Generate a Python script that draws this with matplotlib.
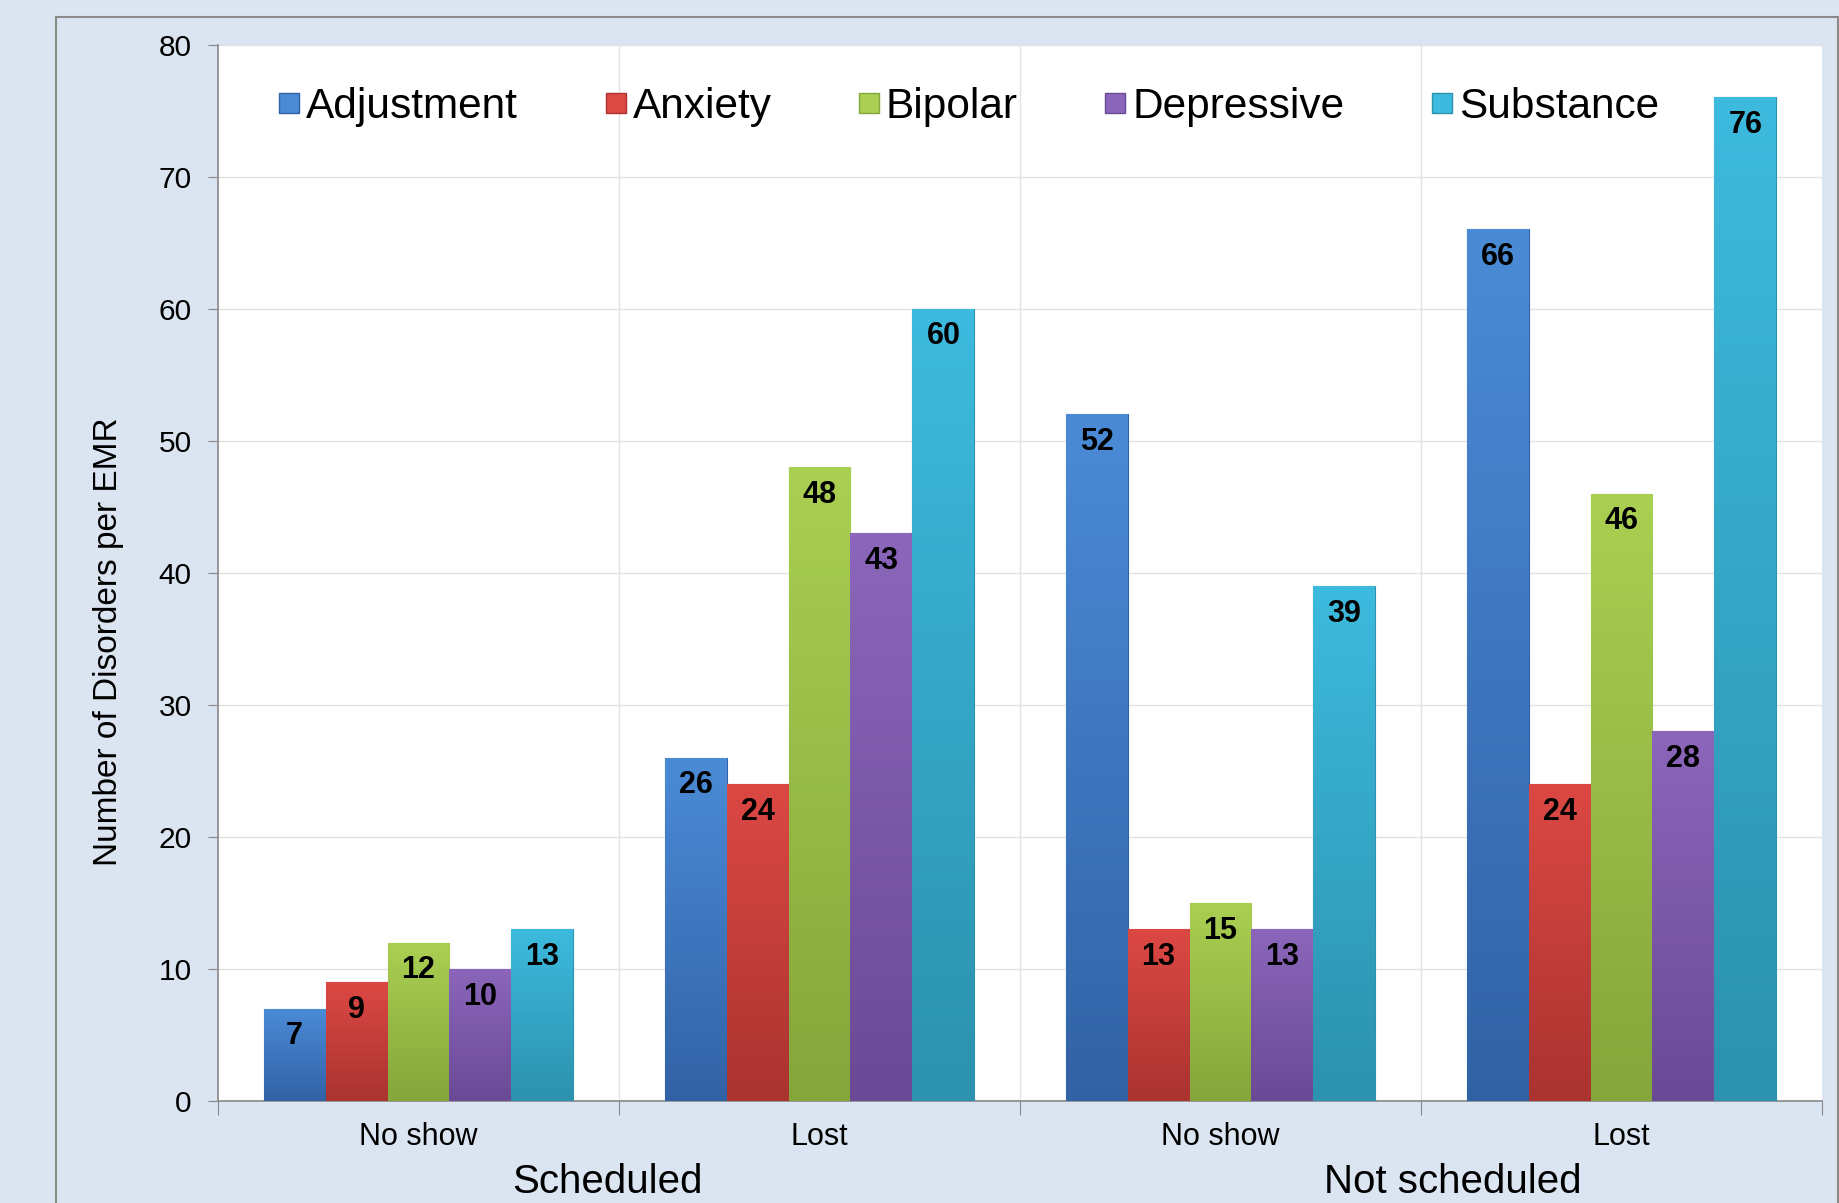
import numpy as np
import matplotlib
matplotlib.use("Agg")
import matplotlib.pyplot as plt
from matplotlib.patches import Rectangle
from matplotlib.lines import Line2D
from matplotlib.colors import LinearSegmentedColormap

plt.rcParams['font.family'] = ['Liberation Sans', 'DejaVu Sans']

# data
categories = ["No show", "Lost", "No show", "Lost"]
groups = ["Scheduled", "Not scheduled"]
series = ["Adjustment", "Anxiety", "Bipolar", "Depressive", "Substance"]
adjustment = [7, 26, 52, 66]
anxiety = [9, 24, 13, 24]
bipolar = [12, 48, 15, 46]
depressive = [10, 43, 13, 28]
substance = [13, 60, 39, 76]
values = [adjustment, anxiety, bipolar, depressive, substance]

# (top, bottom) gradient colours per series
top_colors = ["#4b8bd6", "#dc4844", "#aacf52", "#8b66ba", "#3dbade"]
bottom_colors = ["#3262a6", "#aa3330", "#84a63b", "#6a4a96", "#2c92ad"]

BG = "#dbe5f1"

fig = plt.figure(figsize=(18.4, 12.03), dpi=100)
fig.patch.set_facecolor(BG)

# panel border
fig.patches.append(Rectangle((56 / 1840, -0.02), (1838 - 56) / 1840, 1.02 - 17 / 1203,
                             transform=fig.transFigure, facecolor=BG,
                             edgecolor="#8a8a8a", linewidth=1.5, zorder=-10))

ax = fig.add_axes([218 / 1840, 1 - 1101 / 1203, (1822 - 218) / 1840, (1101 - 44.6) / 1203])
ax.set_facecolor("white")

x = np.arange(len(categories))
w = 0.1545

for i, (name, vals) in enumerate(zip(series, values)):
    bars = ax.bar(x + (i - 2) * w, vals, w, color=top_colors[i],
                  edgecolor=bottom_colors[i], linewidth=0.8, zorder=3, label=name)
    cmap = LinearSegmentedColormap.from_list(name, [bottom_colors[i], top_colors[i]])
    grad = np.linspace(0, 1, 256).reshape(-1, 1)
    for b, v in zip(bars, vals):
        x0 = b.get_x()
        im = ax.imshow(grad, cmap=cmap, origin="lower", aspect="auto",
                       extent=(x0, x0 + w, 0, v), zorder=3.5)
        im.set_clip_path(b)
        ax.annotate(str(v), (b.get_x() + w / 2, v), xytext=(0, -20),
                    textcoords="offset points", ha="center", va="center",
                    fontsize=22, fontweight="bold", color="black", zorder=5)

ax.set_xlim(-0.5, 3.5)
ax.set_ylim(0, 80)
ax.set_yticks(np.arange(0, 81, 10))
ax.tick_params(axis="y", labelsize=21.5, length=7, color="#888888", pad=12)
ax.grid(axis="y", color="#e2e2e2", linewidth=1, zorder=0)

# separators between categories
ax.set_xticks(np.arange(-0.5, 3.6, 1))
ax.set_xticklabels([])
ax.tick_params(axis="x", length=10, color="#888888")
for s in [0.5, 1.5, 2.5]:
    ax.axvline(s, color="#e2e2e2", linewidth=1, zorder=0)

ax.set_xticks(x, minor=True)
ax.set_xticklabels(categories, minor=True, fontsize=22)
ax.tick_params(axis="x", which="minor", length=0, pad=15)

for sp in ["top", "right"]:
    ax.spines[sp].set_visible(False)
for sp in ["left", "bottom"]:
    ax.spines[sp].set_color("#888888")
    ax.spines[sp].set_linewidth(1.2)

# group labels
ax.text(0.47, -0.077, groups[0], transform=ax.get_xaxis_transform(),
        ha="center", va="center", fontsize=29)
ax.text(2.58, -0.077, groups[1], transform=ax.get_xaxis_transform(),
        ha="center", va="center", fontsize=29)

fig.text(109 / 1840, 1 - 642 / 1203, "Number of Disorders per EMR", rotation=90,
         ha="center", va="center", fontsize=24)

handles = [Line2D([], [], marker="s", linestyle="none", markersize=15,
                  markerfacecolor=top_colors[i], markeredgecolor=bottom_colors[i])
           for i in range(len(series))]
fig.legend(handles, series, loc="center", bbox_to_anchor=(0.526, 0.911), ncol=5,
           frameon=False, fontsize=30.5, handletextpad=0.1, columnspacing=2.0,
           handlelength=0.6)

fig.savefig("out.png", dpi=100, facecolor=BG)
